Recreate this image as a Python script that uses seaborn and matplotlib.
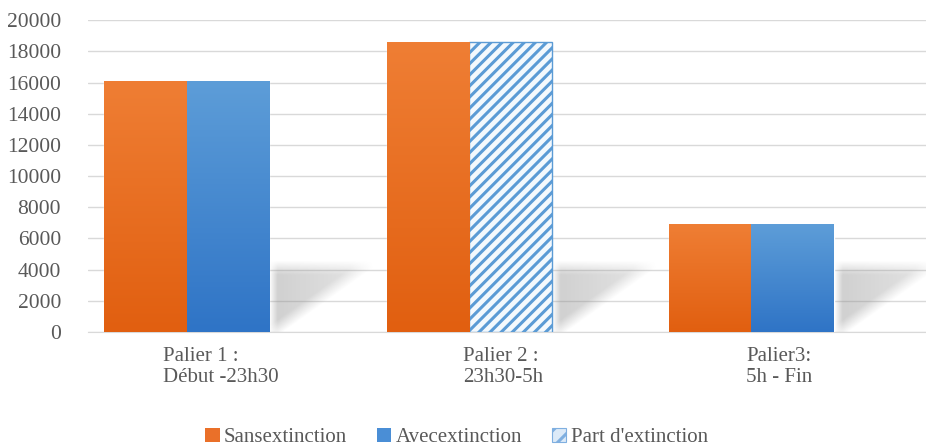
import numpy as np
import pandas as pd
import matplotlib
matplotlib.use('Agg')
import matplotlib.pyplot as plt
import seaborn as sns
from matplotlib.patches import Patch
from matplotlib.colors import LinearSegmentedColormap

paliers = ["Palier 1 :\nDébut -23h30", "Palier 2 :\n23h30-5h", "Palier3:\n5h - Fin"]
sans_extinction = [16100, 18600, 6900]
avec_extinction = [16100, 18600, 6900]
part_extinction = [False, True, False]  # barre "Avec" remplacée par la part d'extinction
series = ["Sansextinction", "Avecextinction", "Part d'extinction"]

orange = "#EA7029"
blue = "#4A8ED6"
df = pd.DataFrame({
    "palier": paliers * 2,
    "valeur": sans_extinction + avec_extinction,
    "serie": [series[0]] * 3 + [series[1]] * 3,
})

sns.set_style("white")
plt.rcParams['font.family'] = ['Liberation Serif', 'DejaVu Serif']
plt.rcParams['hatch.linewidth'] = 2.2

fig = plt.figure(figsize=(9.26, 4.48), dpi=100)
ax = fig.add_axes([0.095, 0.259, 0.905, 0.696])

sns.barplot(data=df, x="palier", y="valeur", hue="serie", palette=[orange, blue],
            width=0.585, gap=0, legend=False, saturation=1, ax=ax, zorder=3)

bars = [p for p in ax.patches]
grad_orange = LinearSegmentedColormap.from_list("o", ["#E15F10", "#EF7E34"])
grad_blue = LinearSegmentedColormap.from_list("b", ["#2F74C6", "#5D9DD8"])
for i, p in enumerate(bars):
    x0, w, h = p.get_x(), p.get_width(), p.get_height()
    serie_idx = i // 3
    cat_idx = i % 3
    if serie_idx == 1 and part_extinction[cat_idx]:
        p.set_facecolor("#F4F9FD")
        p.set_edgecolor("#5B9BD5")
        p.set_hatch("///")
        p.set_linewidth(1)
        continue
    cmap = grad_orange if serie_idx == 0 else grad_blue
    g = np.linspace(0, 1, 100).reshape(-1, 1)
    im = ax.imshow(g, cmap=cmap, extent=[x0, x0 + w, 0, h], origin="lower",
                   aspect="auto", zorder=3.5)
    im.set_clip_path(p)

# ombres portées (floues) derrière chaque groupe
top = 4100
span = 0.42
uu, vv = np.meshgrid(np.linspace(0, span, 160), np.linspace(0, top + 600, 120))
for k in range(len(paliers)):
    xr = bars[3 + k].get_x() + bars[3 + k].get_width()
    # bord droit incliné : de (0.05, 0) à (0.37, top)
    edge = 0.05 + 0.32 * np.clip(vv / top, 0, 1)
    a_right = np.clip((edge - uu) / 0.08, 0, 1)
    a_top = np.clip((top - vv) / 900 + 0.5, 0, 1)
    a_left = np.clip(uu / 0.03, 0, 1)
    alpha = a_right * a_top * a_left * (1 - 0.55 * uu / span) * 0.42
    rgba = np.zeros(uu.shape + (4,))
    rgba[..., :3] = 0.55
    rgba[..., 3] = alpha
    ax.imshow(rgba, extent=[xr, xr + span, 0, top + 600], origin="lower",
              aspect="auto", zorder=2, interpolation="bilinear")

ax.set_xlim(-0.351, 2.62)
ax.set_ylim(0, 20000)
ax.set_yticks(range(0, 20001, 2000))
ax.yaxis.grid(True, color="#D9D9D9", linewidth=1)
ax.set_axisbelow(True)
for s in ["top", "right", "left"]:
    ax.spines[s].set_visible(False)
ax.spines["bottom"].set_color("#D9D9D9")
ax.tick_params(axis="y", length=0, pad=19.5, labelsize=15.5, labelcolor="#595959")
ax.tick_params(axis="x", length=0, pad=11, labelsize=15, labelcolor="#595959")
ax.set_xticks([0.12, 1.12, 2.1])
ax.set_xticklabels(paliers)
for lab in ax.get_xticklabels():
    lab.set_multialignment("left")
    lab.set_linespacing(1.15)
ax.set_xlabel("")
ax.set_ylabel("")

handles = [Patch(facecolor=orange, edgecolor="none"),
           Patch(facecolor=blue, edgecolor="none"),
           Patch(facecolor="#DCEAF8", edgecolor="#7FAFE0", hatch="//", linewidth=0.8)]
fig.legend(handles, series, loc="center", bbox_to_anchor=(0.493, 0.024), ncol=3,
           frameon=False, fontsize=15, handlelength=0.68, handleheight=0.68,
           handletextpad=0.2, columnspacing=1.45, labelcolor="#595959")

fig.savefig("out.png", dpi=100)
